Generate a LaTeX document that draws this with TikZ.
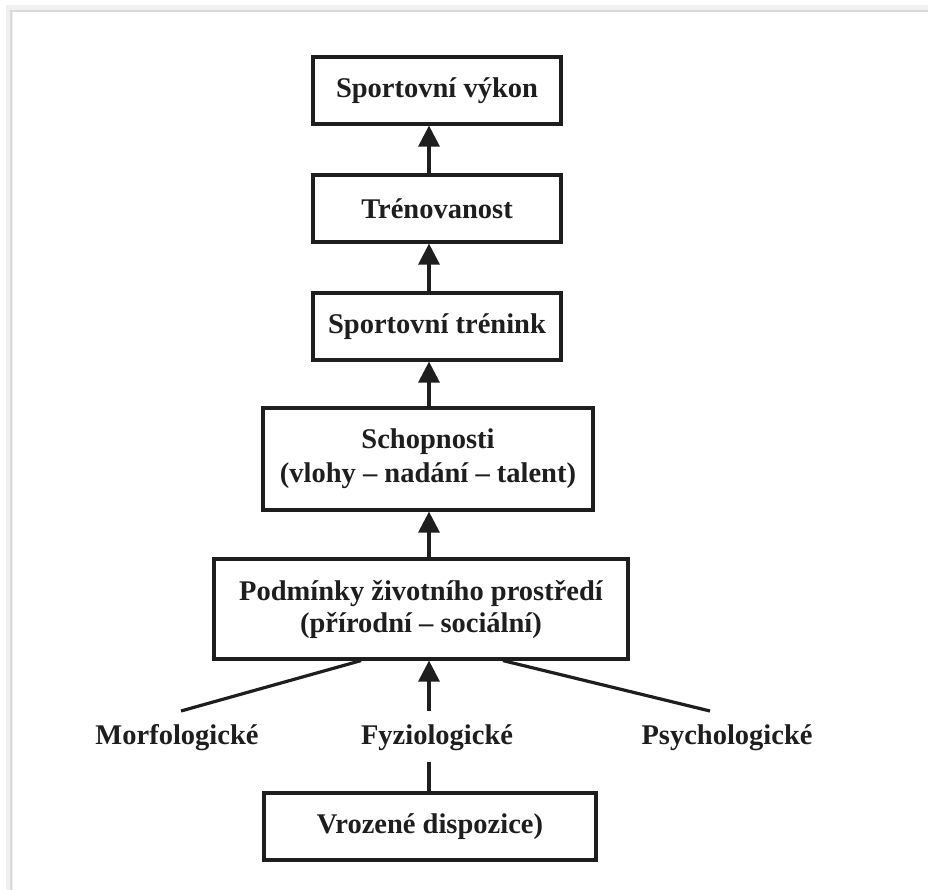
\documentclass[tikz,border=0pt]{standalone}
\usepackage{fontspec}
\setmainfont{Liberation Serif}
\usetikzlibrary{arrows.meta}
\definecolor{ink}{HTML}{1E1E1E}
\begin{document}
\begin{tikzpicture}[x=1pt,y=-1pt,
  box/.style={draw=ink, line width=3.2pt, fill=white, inner sep=0pt, align=center,
    font=\fontsize{28.5}{34}\selectfont\bfseries, text=ink},
  lbl/.style={inner sep=0pt, font=\fontsize{28.5}{34}\selectfont\bfseries, text=ink},
  arr/.style={draw=ink, line width=3.2pt, -{Triangle[width=21pt,length=21pt]}},
  link/.style={draw=ink, line width=3.2pt},
]
\useasboundingbox (0,0) rectangle (928,890);
\fill[white] (0,0) rectangle (928,890);
% soft page edge
\draw[gray!12, line width=7pt] (9,890) -- (9,9) -- (928,9);
\draw[gray!30, line width=2pt] (11,890) -- (11,11) -- (928,11);

% main chain
\node[box, minimum width=248pt, minimum height=67pt] (perf)  at (437,90.5)  {Sportovní výkon};
\node[box, minimum width=248pt, minimum height=67pt] (fit)   at (437,208.5) {Trénovanost};
\node[box, minimum width=248pt, minimum height=67pt] (train) at (437,326.5) {Sportovní trénink};
\node[box, minimum width=330pt, minimum height=102pt] (abil) at (428,459)
  {Schopnosti\\(vlohy -- nadání -- talent)};
\node[box, minimum width=414pt, minimum height=100pt, font=\fontsize{28.5}{32}\selectfont\bfseries] (env) at (421,609)
  {Podmínky životního prostředí\\(přírodní -- sociální)};

% components
\node[lbl] (morph)  at (177,738) {Morfologické};
\node[lbl] (phys)   at (437,738) {Fyziologické};
\node[lbl] (psych)  at (727,738) {Psychologické};
\node[box, minimum width=332pt, minimum height=67pt] (innate) at (430,826.5) {Vrozené dispozice)};

% connectors
\coordinate (axis) at (429,0);
\draw[arr] (fit.north -| axis)   -- (perf.south -| axis);
\draw[arr] (train.north -| axis) -- (fit.south -| axis);
\draw[arr] (abil.north -| axis)  -- (train.south -| axis);
\draw[arr] (env.north -| axis)   -- (abil.south -| axis);

\coordinate (morphTop) at (361,0);
\coordinate (psychTop) at (503,0);
\coordinate (morphEnd) at (181,711);
\coordinate (physEnd)  at (429,711);
\coordinate (psychEnd) at (710,711);
\coordinate (innEnd)   at (429,762);
\draw[link] (morphEnd) -- (env.south -| morphTop);
\draw[link] (psychEnd) -- (env.south -| psychTop);
\draw[arr]  (physEnd) -- (env.south -| axis);
\draw[link] (innate.north -| axis) -- (innEnd);
\end{tikzpicture}
\end{document}
